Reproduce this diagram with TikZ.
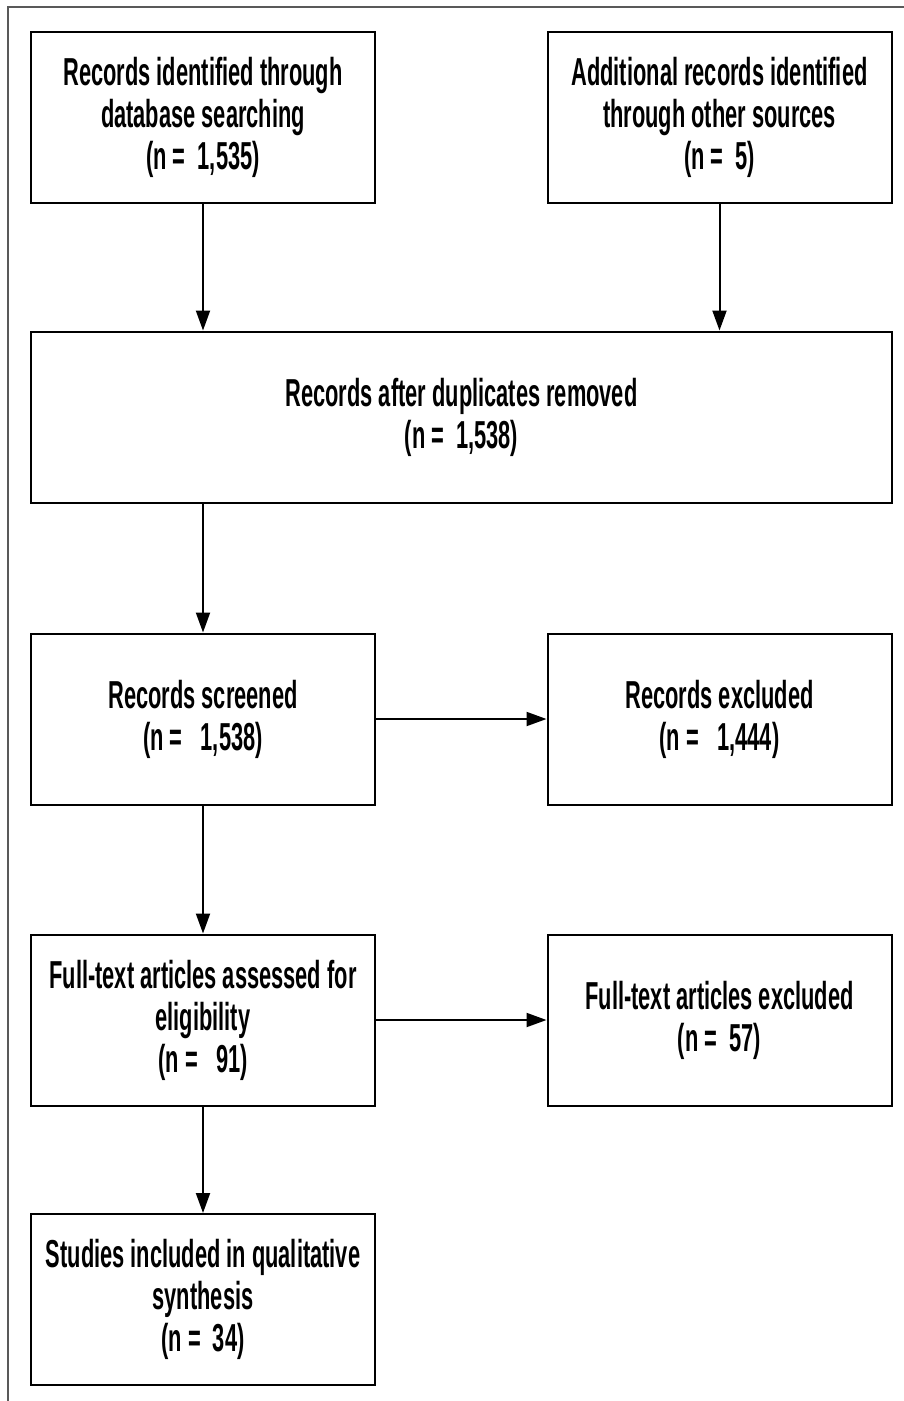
\documentclass[tikz,border=0pt]{standalone}
\usepackage{fontspec}
\setmainfont{Liberation Sans}[FakeStretch=0.56,BoldFont={* Bold}]
\usetikzlibrary{arrows.meta}

\begin{document}
\begin{tikzpicture}[x=1pt,y=-1pt,
    box/.style={draw,line width=2pt,minimum width=344pt,minimum height=171pt,
      align=center,inner sep=0pt,font={\fontsize{39}{42}\selectfont\bfseries}},
    flow/.style={line width=2pt,-{Triangle[length=20pt,width=14pt]}}]
  \useasboundingbox (0,0) rectangle (904,1401);
  \draw[black!65,line width=1.5pt] (8,1401) -- (8,7) -- (904,7);
  \node[box] (ident) at (203,117.5) {Records identified through\\database searching\\(n =\ \ 1,535)};
  \node[box] (other) at (719.5,117.5) {Additional records identified\\through other sources\\(n =\ \ 5)};
  \node[box,minimum width=861pt] (dupl) at (461.5,417) {Records after duplicates removed\\(n =\ \ 1,538)};
  \node[box] (screen) at (203,719) {Records screened\\(n =\ \ \ 1,538)};
  \node[box] (excl) at (719.5,719) {Records excluded\\(n =\ \ \ 1,444)};
  \node[box] (full) at (203,1020) {Full-text articles assessed for\\eligibility\\(n =\ \ \ 91)};
  \node[box] (fullexcl) at (719.5,1020) {Full-text articles excluded\\(n =\ \ 57)};
  \node[box] (incl) at (203,1299.5) {Studies included in qualitative\\synthesis\\(n =\ \ 34)};
  \draw[flow] (ident) -- (ident |- dupl.north);
  \draw[flow] (other) -- (other |- dupl.north);
  \draw[flow] (dupl.south -| screen) -- (screen);
  \draw[flow] (screen) -- (excl);
  \draw[flow] (screen) -- (full);
  \draw[flow] (full) -- (fullexcl);
  \draw[flow] (full) -- (incl);
\end{tikzpicture}
\end{document}
